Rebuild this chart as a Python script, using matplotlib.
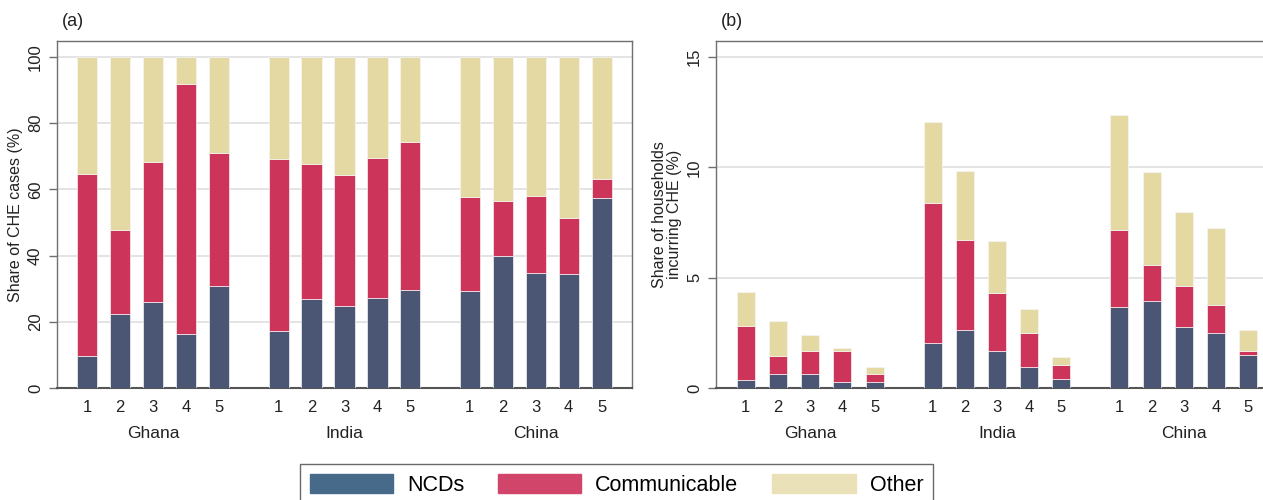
import numpy as np
import matplotlib.pyplot as plt
from matplotlib.patches import Patch

plt.rcParams['font.family'] = ['Liberation Sans', 'DejaVu Sans']

countries = ['Ghana', 'India', 'China']
quintiles = ['1', '2', '3', '4', '5']

# panel (a): share of CHE cases (%) by quintile
ncd_a = [9.6, 22.2, 26.1, 16.4, 30.9,
         17.1, 26.8, 24.9, 27.3, 29.6,
         29.3, 40.0, 34.6, 34.5, 57.3]
comm_a = [55.1, 25.6, 42.2, 75.5, 40.1,
          52.2, 41.0, 39.5, 42.1, 44.7,
          28.3, 16.6, 23.3, 16.8, 5.9]
other_a = [35.3, 52.2, 31.7, 8.1, 29.0,
           30.7, 32.2, 35.6, 30.6, 25.7,
           42.4, 43.4, 42.1, 48.7, 36.8]

# panel (b): share of households incurring CHE (%)
ncd_b = [0.38, 0.65, 0.62, 0.29, 0.29,
         2.06, 2.65, 1.66, 0.95, 0.39,
         3.66, 3.93, 2.75, 2.51, 1.51]
comm_b = [2.45, 0.82, 1.04, 1.37, 0.36,
          6.31, 4.05, 2.64, 1.55, 0.67,
          3.48, 1.62, 1.86, 1.24, 0.17]
other_b = [1.54, 1.57, 0.76, 0.13, 0.29,
           3.69, 3.15, 2.37, 1.06, 0.35,
           5.25, 4.24, 3.35, 3.51, 0.97]

bar_cols = ['#4b5574', '#cc3459', '#e4d8a3']
leg_cols = ['#486a8a', '#d1456a', '#ebe1b8']
labels = ['NCDs', 'Communicable', 'Other']

gap = 1.8
pos = np.concatenate([np.arange(5) + g * (4 + gap) for g in range(3)])
centers = [2 + g * (4 + gap) for g in range(3)]

fig = plt.figure(figsize=(12.63, 5.0), dpi=100)
ax_a = fig.add_axes([57 / 1263, 1 - 388 / 500, (632 - 57) / 1263, 347 / 500])
ax_b = fig.add_axes([716 / 1263, 1 - 388 / 500, (1278 - 716) / 1263, 347 / 500])


def draw_panel(ax, series, width, ymax, yticks, ylabel, tag):
    bottom = np.zeros(len(pos))
    for vals, col in zip(series, bar_cols):
        ax.bar(pos, vals, width, bottom=bottom, color=col,
               edgecolor='#f4f4f4', linewidth=0.5, zorder=3)
        bottom = bottom + np.array(vals)
    ax.set_xlim(pos[0] - 0.92, pos[-1] + 0.92)
    ax.set_ylim(0, ymax)
    ax.set_yticks(yticks)
    ax.set_yticklabels([str(t) for t in yticks], rotation=90, va='center',
                       fontsize=12, color='#222222')
    ax.set_xticks(pos)
    ax.set_xticklabels(quintiles * 3, fontsize=12, color='#222222')
    ax.tick_params(axis='x', length=0, pad=9)
    ax.tick_params(axis='y', length=6, width=1, color='#707070', pad=4)
    ax.grid(axis='y', color='#e2e2e2', linewidth=1.3, zorder=0)
    ax.set_axisbelow(True)
    for s in ['top', 'right', 'left']:
        ax.spines[s].set_color('#707070')
        ax.spines[s].set_linewidth(1.0)
    ax.spines['bottom'].set_color('#555555')
    ax.spines['bottom'].set_linewidth(1.5)
    ax.set_ylabel(ylabel, fontsize=11.5, color='#222222', labelpad=4,
                  linespacing=1.0)
    for c, name in zip(centers, countries):
        ax.text(c, -0.13, name, transform=ax.get_xaxis_transform(),
                ha='center', va='center', fontsize=12.5, color='#222222')
    ax.text(0.009, 1.055, tag, transform=ax.transAxes, fontsize=13,
            ha='left', va='center', color='#222222')


draw_panel(ax_a, [ncd_a, comm_a, other_a], 0.61, 104.8,
           [0, 20, 40, 60, 80, 100], 'Share of CHE cases (%)', '(a)')
draw_panel(ax_b, [ncd_b, comm_b, other_b], 0.56, 15.72,
           [0, 5, 10, 15], 'Share of households\nincurring CHE (%)', '(b)')

handles = [Patch(facecolor=c, edgecolor=c) for c in leg_cols]
leg = fig.legend(handles, labels, loc='upper center',
                 bbox_to_anchor=(616.5 / 1263, 1 - 464 / 500), ncol=3,
                 fontsize=15.5, frameon=True, fancybox=False,
                 handlelength=3.86, handleheight=1.0, handletextpad=0.65,
                 columnspacing=1.58, borderpad=0.45, borderaxespad=0)
leg.get_frame().set_edgecolor('#444444')
leg.get_frame().set_linewidth(1.0)

fig.savefig('out.png', dpi=100)
